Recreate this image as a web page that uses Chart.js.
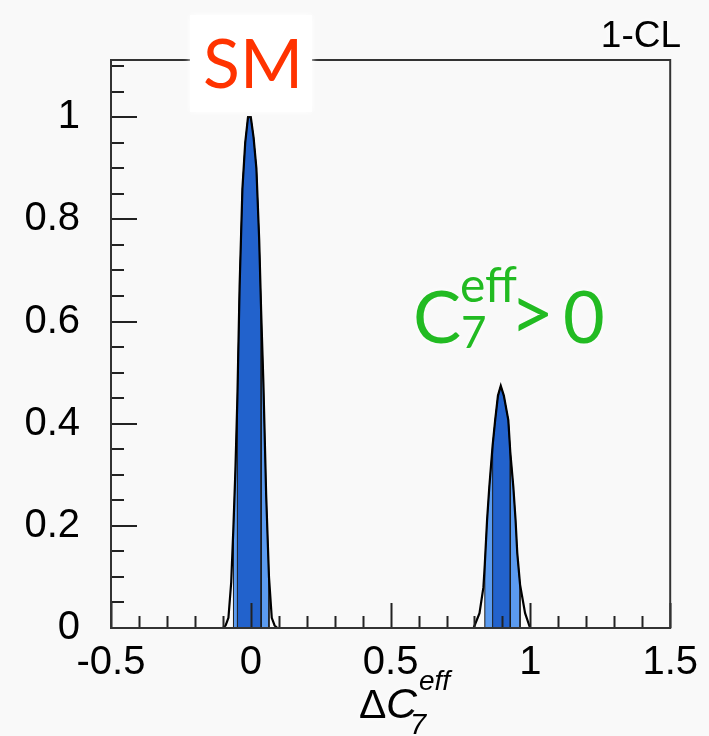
<!DOCTYPE html>
<html>
<head>
<meta charset="utf-8">
<script src="https://cdn.jsdelivr.net/npm/chart.js@4.4.1/dist/chart.umd.min.js"></script>
<style>
    html, body { margin: 0; padding: 0; background: #f9f9f9; }
    canvas { display: block; }
</style>
</head>
<body>
<canvas id="scan" width="709" height="736"></canvas>
<script>
// 1-CL profile in Delta C7eff: SM solution near 0, flipped-sign solution near 0.9
const smX = [-0.100, -0.090, -0.080, -0.070, -0.062, -0.055, -0.048, -0.040, -0.030, -0.020, -0.010,
    0.000, 0.010, 0.020, 0.030, 0.037, 0.045, 0.055, 0.065, 0.075, 0.085, 0.095];
const smY = [0, 0.005, 0.02, 0.09, 0.20, 0.31, 0.45, 0.67, 0.86, 0.95, 1.0,
    1.0, 0.96, 0.90, 0.76, 0.62, 0.48, 0.26, 0.10, 0.02, 0.005, 0];

const flipX = [0.797, 0.818, 0.832, 0.837, 0.845, 0.853, 0.865, 0.874, 0.884, 0.894,
    0.905, 0.921, 0.928, 0.939, 0.947, 0.953, 0.963, 0.981, 0.999];
const flipY = [0, 0.029, 0.08, 0.125, 0.211, 0.276, 0.358, 0.407, 0.455, 0.474,
    0.455, 0.407, 0.345, 0.276, 0.211, 0.147, 0.085, 0.029, 0];

// 68% (dark) and 95% (light) intervals
const smInner = [-0.048, 0.037];
const smOuter = [-0.062, 0.065];
const flipInner = [0.865, 0.928];
const flipOuter = [0.837, 0.963];

const xTicks = [-0.5, 0, 0.5, 1, 1.5];
const yTicks = [0, 0.2, 0.4, 0.6, 0.8, 1];
const xRange = [-0.5, 1.5];
const yRange = [0, 1.112];

const DARK = '#2262cc';
const LIGHT = '#5b9bf0';
const LABEL_FONT = '"Liberation Sans", Arial, sans-serif';

const toPoints = (xs, ys) => xs.map((x, i) => ({ x: x, y: ys[i] }));

// curve points inside [lo, hi], closed down to zero so the band edges get a stroke too
const band = (xs, ys, range) => {
    const pts = toPoints(xs, ys).filter(p => p.x >= range[0] && p.x <= range[1]);
    return [{ x: pts[0].x, y: 0 }, ...pts, { x: pts[pts.length - 1].x, y: 0 }];
};

const bandSet = (data, color, order) => ({
    data: data,
    order: order,
    fill: 'origin',
    backgroundColor: color,
    borderColor: '#1a1a1a',
    borderWidth: 1,
    pointRadius: 0,
    tension: 0
});

const curveSet = (data) => ({
    data: data,
    order: 0,
    fill: false,
    borderColor: '#000',
    borderWidth: 2.2,
    pointRadius: 0,
    tension: 0
});

const text = (ctx, str, x, y, font, color, align = 'left') => {
    ctx.font = font;
    ctx.fillStyle = color;
    ctx.textAlign = align;
    ctx.textBaseline = 'alphabetic';
    ctx.fillText(str, x, y);
};

// background, inward ROOT-style ticks, frame and the annotations
const framePlugin = {
    id: 'frame',
    beforeDraw(chart) {
        const ctx = chart.ctx;
        ctx.save();
        ctx.fillStyle = '#f9f9f9';
        ctx.fillRect(0, 0, chart.width, chart.height);
        ctx.restore();
    },
    afterDatasetsDraw(chart) {
        const ctx = chart.ctx;
        const a = chart.chartArea;
        const xs = chart.scales.x;
        const ys = chart.scales.y;
        ctx.save();
        ctx.strokeStyle = '#222';
        ctx.lineWidth = 2;
        ctx.beginPath();
        for (let i = 0; i <= 20; i++) {
            const px = Math.round(xs.getPixelForValue(-0.5 + i * 0.1)) + 0.5;
            const len = i % 5 === 0 ? 25 : 12;
            ctx.moveTo(px, a.bottom);
            ctx.lineTo(px, a.bottom - len);
        }
        for (let i = 0; i <= 22; i++) {
            const py = Math.round(ys.getPixelForValue(i * 0.05));
            const len = i % 4 === 0 ? 26 : 13;
            ctx.moveTo(a.left, py);
            ctx.lineTo(a.left + len, py);
        }
        ctx.stroke();
        ctx.strokeStyle = '#333';
        ctx.strokeRect(a.left, a.top, a.right - a.left, a.bottom - a.top);
        ctx.restore();
    },
    afterDraw(chart) {
        const ctx = chart.ctx;
        ctx.save();
        ctx.shadowColor = '#fff';
        ctx.shadowBlur = 6;

        text(ctx, '1-CL', 681, 47, '37px ' + LABEL_FONT, '#000', 'right');

        // SM tag sits on a white patch over the top frame line
        ctx.fillStyle = '#fff';
        ctx.fillRect(190, 15, 122, 97);
        text(ctx, 'SM', 203, 88, '68px Lato', '#ff3300');

        const green = '#22bb22';
        text(ctx, 'C', 413, 343, '72px Lato', green);
        text(ctx, 'eff', 460, 302, '48px Lato', green);
        text(ctx, '7', 461, 348, '44px Lato', green);
        text(ctx, '>', 510, 340, '76px Lato', green);
        text(ctx, '0', 563, 343, '72px Lato', green);

        // axis title: Delta C7eff
        text(ctx, '\u0394', 359, 718, '41px ' + LABEL_FONT, '#000');
        text(ctx, 'C', 386, 718, 'italic 43px ' + LABEL_FONT, '#000');
        text(ctx, 'eff', 419, 690, 'italic 28px ' + LABEL_FONT, '#000');
        text(ctx, '7', 410, 734, 'italic 29px ' + LABEL_FONT, '#000');
        ctx.restore();
    }
};

new Chart(document.getElementById('scan'), {
    type: 'line',
    data: {
        datasets: [
            curveSet(toPoints(smX, smY)),
            curveSet(toPoints(flipX, flipY)),
            bandSet(band(smX, smY, smInner), DARK, 1),
            bandSet(band(flipX, flipY, flipInner), DARK, 1),
            bandSet(band(smX, smY, smOuter), LIGHT, 2),
            bandSet(band(flipX, flipY, flipOuter), LIGHT, 2)
        ]
    },
    options: {
        responsive: false,
        animation: false,
        devicePixelRatio: 1,
        layout: { padding: { top: 60, right: 28, left: 0, bottom: 0 } },
        plugins: { legend: { display: false }, tooltip: { enabled: false } },
        scales: {
            x: {
                type: 'linear',
                min: xRange[0],
                max: xRange[1],
                afterBuildTicks: s => { s.ticks = xTicks.map(v => ({ value: v })); },
                afterFit: s => { s.height = 108; },
                grid: { display: false, drawTicks: false },
                border: { display: false },
                ticks: {
                    color: '#000',
                    font: { family: LABEL_FONT, size: 40 },
                    padding: 11,
                    maxRotation: 0,
                    autoSkip: false,
                    callback: v => String(v)
                }
            },
            y: {
                min: yRange[0],
                max: yRange[1],
                afterBuildTicks: s => { s.ticks = yTicks.map(v => ({ value: v })); },
                afterFit: s => { s.width = 111; },
                grid: { display: false, drawTicks: false },
                border: { display: false },
                ticks: {
                    color: '#000',
                    font: { family: LABEL_FONT, size: 40 },
                    padding: 31,
                    autoSkip: false,
                    callback: v => String(Math.round(v * 10) / 10)
                }
            }
        }
    },
    plugins: [framePlugin]
});
</script>
</body>
</html>
